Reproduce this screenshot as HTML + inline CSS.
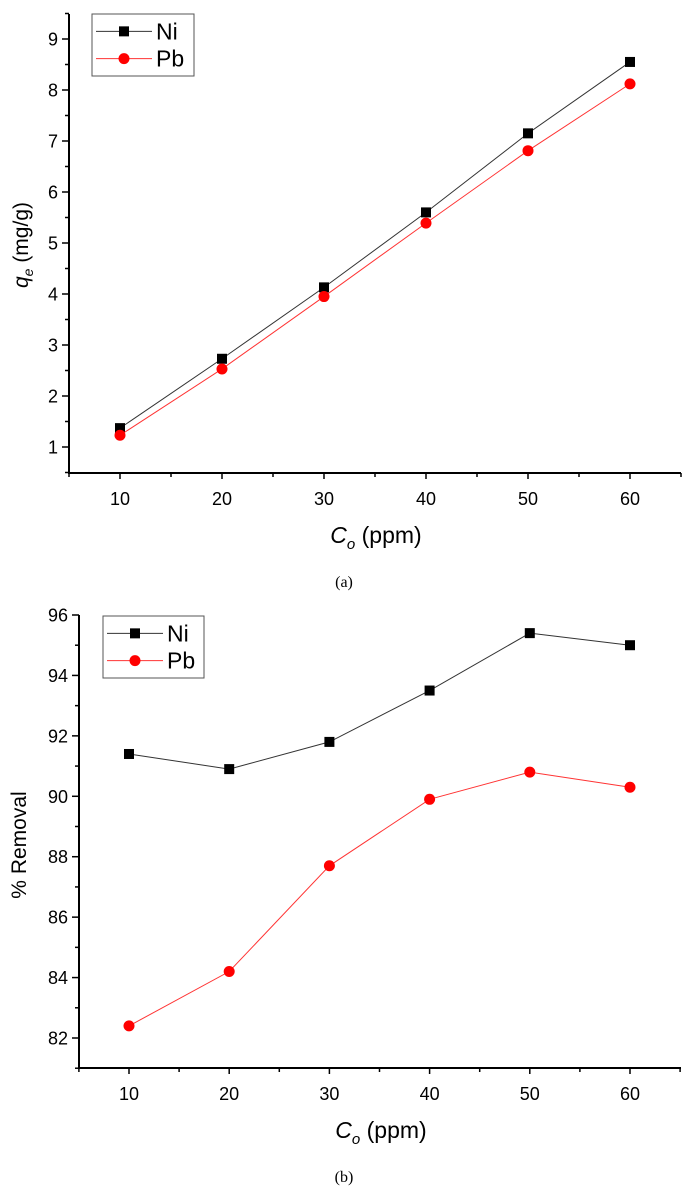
<!DOCTYPE html>
<html><head><meta charset="utf-8"><style>
body{margin:0;background:#fff;}
svg{display:block;font-family:"Liberation Sans",Arial,sans-serif;}
</style></head><body>
<svg id="root" width="691" height="1187" viewBox="0 0 691 1187"></svg>
<script>
const categories=[10,20,30,40,50,60];
const niQe=[1.37,2.73,4.13,5.6,7.15,8.55];
const pbQe=[1.23,2.53,3.95,5.39,6.81,8.12];
const niRemoval=[91.4,90.9,91.8,93.5,95.4,95.0];
const pbRemoval=[82.4,84.2,87.7,89.9,90.8,90.3];
const qeTicks=[1,2,3,4,5,6,7,8,9];
const remTicks=[82,84,86,88,90,92,94,96];
const xTicks=[10,20,30,40,50,60];

const NS="http://www.w3.org/2000/svg";
const root=document.getElementById('root');
function mk(tag,attrs,parent){const e=document.createElementNS(NS,tag);for(const k in attrs)e.setAttribute(k,attrs[k]);(parent||root).appendChild(e);return e;}

function chart(cfg){
  const g=mk('g',{});
  
  
  const X=v=>cfg.x0+(v-cfg.xmin)/(cfg.xmax-cfg.xmin)*(cfg.x1-cfg.x0);
  const Y=v=>cfg.y0+(v-cfg.ymin)/(cfg.ymax-cfg.ymin)*(cfg.y1-cfg.y0);
  const ax=mk('path',{d:`M${cfg.axX},${cfg.axTop}V${cfg.axY}H${cfg.axRight}`,stroke:'#000','stroke-width':2,fill:'none'},g);
  
  
  for(let v=5;v<=65;v+=5){
    const major=v%10===0;
    mk('line',{x1:X(v),x2:X(v),y1:cfg.axY,y2:cfg.axY+(major?6:4),stroke:'#000','stroke-width':1.5},g);
  }
  xTicks.forEach(v=>{const t=mk('text',{x:X(v),y:cfg.axY+32,'text-anchor':'middle','font-size':18},g);t.textContent=v;
    });
  cfg.yTicks.forEach((v,i)=>{
    mk('line',{x1:cfg.axX-7,x2:cfg.axX,y1:Y(v),y2:Y(v),stroke:'#000','stroke-width':1.5},g);
    const t=mk('text',{x:cfg.axX-11,y:Y(v)+6.5,'text-anchor':'end','font-size':18},g);t.textContent=v;
    
    const m=v+cfg.minorStep;
    if(Y(m)>=cfg.axTop-1) mk('line',{x1:cfg.axX-4,x2:cfg.axX,y1:Y(m),y2:Y(m),stroke:'#000','stroke-width':1.5},g);
  });
  if(cfg.bottomMinor!==undefined) mk('line',{x1:cfg.axX-4,x2:cfg.axX,y1:Y(cfg.bottomMinor),y2:Y(cfg.bottomMinor),stroke:'#000','stroke-width':1.5},g);
  [[cfg.ni,'#333','sq','ni'],[cfg.pb,'#ff3333','ci','pb']].forEach(([vals,col,shape,nm])=>{
    const pl=mk('polyline',{points:vals.map((v,i)=>X(categories[i])+','+Y(v)).join(' '),stroke:col,'stroke-width':1,fill:'none'},g);
    
    vals.forEach((v,i)=>{
      let m;
      if(shape==='sq') m=mk('rect',{x:X(categories[i])-5,y:Y(v)-5,width:10,height:10,fill:'#000'},g);
      else m=mk('circle',{cx:X(categories[i]),cy:Y(v),r:5.5,fill:'#ff0000'},g);
      
    });
  });
  const L=cfg.leg;
  const lg=mk('g',{},g);
  
  mk('rect',{x:L.x,y:L.y,width:L.w,height:L.h,fill:'#fff',stroke:'#555','stroke-width':1},lg);
  const r1=L.y+L.h*0.28,r2=L.y+L.h*0.72;
  mk('line',{x1:L.x+4,x2:L.x+60,y1:r1,y2:r1,stroke:'#333','stroke-width':1},lg);
  mk('rect',{x:L.x+27,y:r1-5,width:10,height:10,fill:'#000'},lg);
  mk('line',{x1:L.x+4,x2:L.x+60,y1:r2,y2:r2,stroke:'#ff3333','stroke-width':1},lg);
  mk('circle',{cx:L.x+32,cy:r2,r:5.5,fill:'#ff0000'},lg);
  let t=mk('text',{x:L.x+64,y:r1+8,'font-size':23},lg);t.textContent='Ni';
  
  t=mk('text',{x:L.x+64,y:r2+8,'font-size':23},lg);t.textContent='Pb';
  
  t=mk('text',{x:cfg.xTitleX,y:cfg.xTitleY,'font-size':23,'text-anchor':'middle'},g);
  t.innerHTML='<tspan font-style="italic">C</tspan><tspan font-style="italic" font-size="15" dy="6">o</tspan><tspan dy="-6"> (ppm)</tspan>';
  
  t=mk('text',{x:0,y:0,'font-size':21,'text-anchor':'middle',transform:`translate(${cfg.yTitleX},${cfg.yTitleY}) rotate(-90)`},g);
  t.innerHTML=cfg.yTitle;
  
  t=mk('text',{x:cfg.capX,y:cfg.capY,'font-size':16,'text-anchor':'middle','font-family':'Liberation Serif, serif'},g);
  t.textContent=cfg.cap;
  
}

chart({name:'qe-chart',xmin:10,xmax:60,x0:120,x1:630,ymin:1,ymax:9,y0:447,y1:39,
  axX:69,axTop:14,axY:473,axRight:681,yTicks:qeTicks,minorStep:0.5,bottomMinor:0.5,
  ni:niQe,pb:pbQe,leg:{x:92,y:14,w:102,h:62},
  xTitleX:376,xTitleY:543,yTitleX:28,yTitleY:245,
  yTitle:'<tspan font-style="italic">q</tspan><tspan font-style="italic" font-size="14" dy="5">e</tspan><tspan dy="-5"> (mg/g)</tspan>',
  capX:344,capY:587,cap:'(a)'});

chart({name:'removal-chart',xmin:10,xmax:60,x0:129,x1:630,ymin:82,ymax:96,y0:1038,y1:615,
  axX:79,axTop:615,axY:1068,axRight:681,yTicks:remTicks,minorStep:1,bottomMinor:81,
  ni:niRemoval,pb:pbRemoval,leg:{x:103,y:616,w:101,h:62},
  xTitleX:381,xTitleY:1138,yTitleX:26,yTitleY:845,
  yTitle:'% Removal',
  capX:344,capY:1182,cap:'(b)'});
</script>
</body></html>
